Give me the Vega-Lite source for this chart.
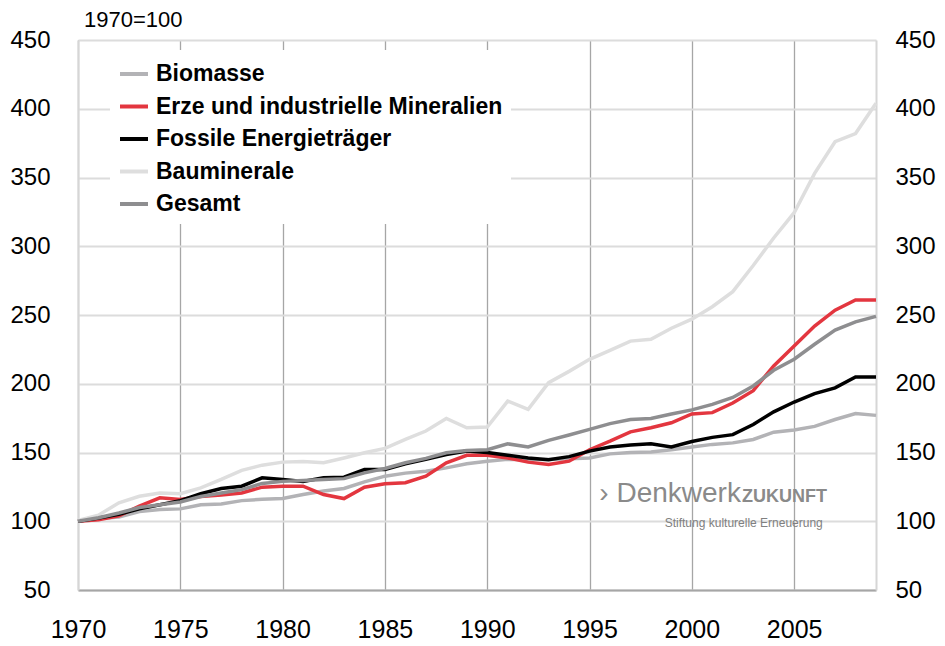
{
  "$schema": "https://vega.github.io/schema/vega-lite/v6.json",
  "width": 798,
  "height": 550,
  "autosize": "none",
  "padding": {"left": 78, "top": 40, "right": 69, "bottom": 56},
  "background": "white",
  "config": {"font": "Liberation Sans", "view": {"stroke": null}},
  "title": {"text": "1970=100", "anchor": "start", "frame": "group", "fontSize": 22, "fontWeight": "normal", "font": "Liberation Sans", "color": "black", "offset": 8, "dx": 6, "dy": 12},
  "data": {"values": [
    {"Jahr": 1970, "Biomasse": 100, "Erze und industrielle Mineralien": 100, "Fossile Energieträger": 100, "Bauminerale": 100.5, "Gesamt": 100},
    {"Jahr": 1971, "Biomasse": 102, "Erze und industrielle Mineralien": 101, "Fossile Energieträger": 102.4, "Bauminerale": 104.4, "Gesamt": 102.5},
    {"Jahr": 1972, "Biomasse": 103, "Erze und industrielle Mineralien": 104, "Fossile Energieträger": 105, "Bauminerale": 113.4, "Gesamt": 106},
    {"Jahr": 1973, "Biomasse": 107, "Erze und industrielle Mineralien": 111, "Fossile Energieträger": 109, "Bauminerale": 118.2, "Gesamt": 110},
    {"Jahr": 1974, "Biomasse": 108.5, "Erze und industrielle Mineralien": 117, "Fossile Energieträger": 112, "Bauminerale": 120.6, "Gesamt": 112},
    {"Jahr": 1975, "Biomasse": 109, "Erze und industrielle Mineralien": 115.8, "Fossile Energieträger": 115, "Bauminerale": 120, "Gesamt": 114},
    {"Jahr": 1976, "Biomasse": 112, "Erze und industrielle Mineralien": 118, "Fossile Energieträger": 120, "Bauminerale": 124.3, "Gesamt": 118},
    {"Jahr": 1977, "Biomasse": 112.6, "Erze und industrielle Mineralien": 119, "Fossile Energieträger": 123.8, "Bauminerale": 130.4, "Gesamt": 120.6},
    {"Jahr": 1978, "Biomasse": 115, "Erze und industrielle Mineralien": 120.6, "Fossile Energieträger": 125.5, "Bauminerale": 137, "Gesamt": 123},
    {"Jahr": 1979, "Biomasse": 116, "Erze und industrielle Mineralien": 124.8, "Fossile Energieträger": 131.6, "Bauminerale": 140.8, "Gesamt": 127.5},
    {"Jahr": 1980, "Biomasse": 116.5, "Erze und industrielle Mineralien": 125.5, "Fossile Energieträger": 130.4, "Bauminerale": 143, "Gesamt": 129},
    {"Jahr": 1981, "Biomasse": 119.4, "Erze und industrielle Mineralien": 125.5, "Fossile Energieträger": 129, "Bauminerale": 143.5, "Gesamt": 129.6},
    {"Jahr": 1982, "Biomasse": 122, "Erze und industrielle Mineralien": 119.4, "Fossile Energieträger": 131.6, "Bauminerale": 142.5, "Gesamt": 130.4},
    {"Jahr": 1983, "Biomasse": 123.8, "Erze und industrielle Mineralien": 116.5, "Fossile Energieträger": 132, "Bauminerale": 146, "Gesamt": 131},
    {"Jahr": 1984, "Biomasse": 128.6, "Erze und industrielle Mineralien": 124.8, "Fossile Energieträger": 137.6, "Bauminerale": 149.8, "Gesamt": 135.2},
    {"Jahr": 1985, "Biomasse": 132.8, "Erze und industrielle Mineralien": 127.2, "Fossile Energieträger": 137.6, "Bauminerale": 153, "Gesamt": 138.4},
    {"Jahr": 1986, "Biomasse": 135, "Erze und industrielle Mineralien": 128, "Fossile Energieträger": 141.8, "Bauminerale": 159.5, "Gesamt": 142.5},
    {"Jahr": 1987, "Biomasse": 136.4, "Erze und industrielle Mineralien": 132.8, "Fossile Energieträger": 145, "Bauminerale": 165.6, "Gesamt": 145.7},
    {"Jahr": 1988, "Biomasse": 138.8, "Erze und industrielle Mineralien": 142.5, "Fossile Energieträger": 148.6, "Bauminerale": 174.8, "Gesamt": 149.8},
    {"Jahr": 1989, "Biomasse": 141.8, "Erze und industrielle Mineralien": 148, "Fossile Energieträger": 151, "Bauminerale": 168, "Gesamt": 151.5},
    {"Jahr": 1990, "Biomasse": 143.7, "Erze und industrielle Mineralien": 148, "Fossile Energieträger": 150, "Bauminerale": 168.5, "Gesamt": 152},
    {"Jahr": 1991, "Biomasse": 145, "Erze und industrielle Mineralien": 146, "Fossile Energieträger": 148, "Bauminerale": 187.4, "Gesamt": 156.3},
    {"Jahr": 1992, "Biomasse": 145, "Erze und industrielle Mineralien": 143, "Fossile Energieträger": 146, "Bauminerale": 181.4, "Gesamt": 154},
    {"Jahr": 1993, "Biomasse": 145, "Erze und industrielle Mineralien": 141.3, "Fossile Energieträger": 144.8, "Bauminerale": 200.8, "Gesamt": 158.8},
    {"Jahr": 1994, "Biomasse": 145.4, "Erze und industrielle Mineralien": 143.7, "Fossile Energieträger": 147, "Bauminerale": 209, "Gesamt": 162.7},
    {"Jahr": 1995, "Biomasse": 146, "Erze und industrielle Mineralien": 152, "Fossile Energieträger": 151, "Bauminerale": 217.8, "Gesamt": 166.8},
    {"Jahr": 1996, "Biomasse": 149, "Erze und industrielle Mineralien": 158.3, "Fossile Energieträger": 154, "Bauminerale": 224.3, "Gesamt": 171},
    {"Jahr": 1997, "Biomasse": 150, "Erze und industrielle Mineralien": 165, "Fossile Energieträger": 155.4, "Bauminerale": 231, "Gesamt": 174},
    {"Jahr": 1998, "Biomasse": 150.3, "Erze und industrielle Mineralien": 168, "Fossile Energieträger": 156.3, "Bauminerale": 232.4, "Gesamt": 174.8},
    {"Jahr": 1999, "Biomasse": 152, "Erze und industrielle Mineralien": 171.6, "Fossile Energieträger": 154, "Bauminerale": 240.4, "Gesamt": 178},
    {"Jahr": 2000, "Biomasse": 154, "Erze und industrielle Mineralien": 178, "Fossile Energieträger": 158, "Bauminerale": 247, "Gesamt": 181},
    {"Jahr": 2001, "Biomasse": 155.9, "Erze und industrielle Mineralien": 179, "Fossile Energieträger": 161, "Bauminerale": 256, "Gesamt": 185},
    {"Jahr": 2002, "Biomasse": 157, "Erze und industrielle Mineralien": 186, "Fossile Energieträger": 163, "Bauminerale": 267, "Gesamt": 190},
    {"Jahr": 2003, "Biomasse": 159.5, "Erze und industrielle Mineralien": 195, "Fossile Energieträger": 170.4, "Bauminerale": 286, "Gesamt": 198.4},
    {"Jahr": 2004, "Biomasse": 164.8, "Erze und industrielle Mineralien": 213, "Fossile Energieträger": 179.6, "Bauminerale": 306, "Gesamt": 209.8},
    {"Jahr": 2005, "Biomasse": 166.3, "Erze und industrielle Mineralien": 227.5, "Fossile Energieträger": 186.7, "Bauminerale": 324.4, "Gesamt": 217.8},
    {"Jahr": 2006, "Biomasse": 169, "Erze und industrielle Mineralien": 242, "Fossile Energieträger": 192.8, "Bauminerale": 353, "Gesamt": 228.7},
    {"Jahr": 2007, "Biomasse": 174, "Erze und industrielle Mineralien": 253.5, "Fossile Energieträger": 197, "Bauminerale": 376, "Gesamt": 239},
    {"Jahr": 2008, "Biomasse": 178.4, "Erze und industrielle Mineralien": 261, "Fossile Energieträger": 205, "Bauminerale": 382, "Gesamt": 245},
    {"Jahr": 2009, "Biomasse": 177, "Erze und industrielle Mineralien": 261, "Fossile Energieträger": 205, "Bauminerale": 404, "Gesamt": 249}
  ]},
  "layer": [
    {
      "transform": [{"fold": ["Biomasse", "Erze und industrielle Mineralien", "Fossile Energieträger", "Bauminerale", "Gesamt"], "as": ["Reihe", "Wert"]}],
      "mark": {"type": "line", "strokeWidth": 3.5},
      "encoding": {
        "x": {"field": "Jahr", "type": "quantitative",
          "scale": {"domain": [1970, 2009], "nice": false, "zero": false},
          "axis": {"values": [1970, 1975, 1980, 1985, 1990, 1995, 2000, 2005], "format": "d", "title": null, "grid": true, "gridColor": "#a6a6a6", "gridWidth": 1.3, "ticks": false, "domainColor": "#a6a6a6", "domainWidth": 2, "labelFontSize": 25, "labelColor": "black", "labelPadding": 27, "labelFlush": false}},
        "y": {"field": "Wert", "type": "quantitative",
          "scale": {"domain": [50, 450], "nice": false, "zero": false},
          "axis": {"values": [50, 100, 150, 200, 250, 300, 350, 400, 450], "title": null, "grid": true, "gridColor": "#dcdcdc", "gridWidth": 2, "ticks": false, "domainColor": "#d6d6d6", "domainWidth": 2, "labelFontSize": 24, "labelColor": "black", "labelPadding": 28}},
        "color": {"field": "Reihe", "type": "nominal",
          "scale": {"domain": ["Biomasse", "Erze und industrielle Mineralien", "Fossile Energieträger", "Bauminerale", "Gesamt"], "range": ["#b3b3b6", "#e3363f", "#000000", "#dedede", "#8e8e90"]},
          "legend": {"orient": "none", "legendX": 32, "legendY": 10, "title": null, "symbolType": "stroke", "symbolSize": 784, "symbolStrokeWidth": 4, "labelFontSize": 23, "labelFontWeight": "bold", "labelColor": "black", "labelOffset": 6, "rowPadding": 4.5, "fillColor": "white", "padding": 8, "labelLimit": 600}}
      }
    },
    {
      "data": {"values": [{}]},
      "mark": {"type": "rule", "opacity": 0},
      "encoding": {
        "y": {"datum": 50, "type": "quantitative",
          "axis": {"orient": "right", "values": [50, 100, 150, 200, 250, 300, 350, 400, 450], "title": null, "grid": false, "ticks": false, "domainColor": "#d6d6d6", "domainWidth": 2, "labelFontSize": 24, "labelColor": "black", "labelPadding": 19}}
      }
    },
    {
      "data": {"values": [{}]},
      "mark": {"type": "text", "text": "› Denkwerk", "align": "right", "baseline": "alphabetic", "fontSize": 28, "color": "#8a8a8a"},
      "encoding": {"x": {"datum": 2002.4, "type": "quantitative", "axis": null}, "y": {"datum": 114, "type": "quantitative", "axis": null}}
    },
    {
      "data": {"values": [{}]},
      "mark": {"type": "text", "text": "ZUKUNFT", "align": "right", "baseline": "alphabetic", "fontSize": 18, "fontWeight": "bold", "color": "#8a8a8a"},
      "encoding": {"x": {"datum": 2006.6, "type": "quantitative", "axis": null}, "y": {"datum": 114, "type": "quantitative", "axis": null}}
    },
    {
      "data": {"values": [{}]},
      "mark": {"type": "text", "text": "Stiftung kulturelle Erneuerung", "align": "right", "baseline": "alphabetic", "fontSize": 12, "color": "#808080"},
      "encoding": {"x": {"datum": 2006.4, "type": "quantitative", "axis": null}, "y": {"datum": 95.8, "type": "quantitative", "axis": null}}
    }
  ],
  "resolve": {"axis": {"x": "independent", "y": "independent"}}
}
